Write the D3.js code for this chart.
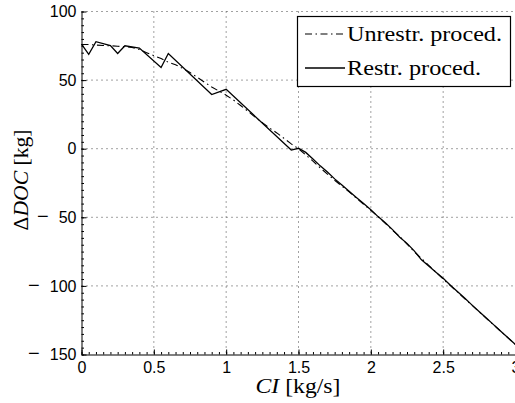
<!DOCTYPE html>
<html>
<head>
<meta charset="utf-8">
<script src="https://cdn.jsdelivr.net/npm/d3@7"></script>
<style>
  html, body { margin: 0; padding: 0; background: #fff; }
  svg { display: block; }
  .tick text { font-family: "Liberation Sans", Arial, sans-serif; font-size: 16px; fill: #000; }
  .serif { font-family: "Liberation Serif", "Times New Roman", serif; fill: #000; }
</style>
</head>
<body>
<svg id="chart" width="515" height="403"></svg>
<script>
// Coolant injection rate [kg/s]
const restrCI = [0, 0.05, 0.1, 0.2, 0.25, 0.3, 0.4, 0.55, 0.6, 0.9, 1.0, 1.45, 1.5, 1.55,
  1.6, 1.65, 1.7, 1.75, 1.8, 1.85, 1.9, 1.95, 2.0, 2.05, 2.1, 2.15, 2.2, 2.25, 2.3, 2.35,
  2.4, 2.45, 2.5, 2.55, 2.6, 2.65, 2.7, 2.75, 2.8, 2.85, 2.9, 2.95, 3.0];
// Delta DOC for the restricted procedure [kg]
const restrDOC = [76.3, 68.8, 78, 75.2, 69.4, 75, 73.3, 59.2, 69.4, 39.5, 43.3, -1, 0.3, -2.7,
  -7.5, -12.5, -17, -22, -26.5, -31, -35.5, -40, -44.5, -49.5, -54, -59, -64.5, -69, -74.5, -81,
  -85.5, -90, -94.5, -99.5, -104.3, -109, -114, -118.8, -123.6, -128.4, -133.2, -138, -142.7];

const unrestrCI = [0, 0.05, 0.1, 0.15, 0.2, 0.25, 0.3, 0.35, 0.4, 0.45, 0.5, 0.55, 0.6, 0.65,
  0.7, 0.75, 0.8, 0.85, 0.9, 0.95, 1.0, 1.05, 1.1, 1.15, 1.2, 1.25, 1.3, 1.35, 1.4, 1.45, 1.5,
  1.55, 1.6, 1.65, 1.7, 1.75, 1.8, 1.85, 1.9, 1.95, 2.0, 2.05, 2.1, 2.15, 2.2, 2.25, 2.3, 2.35,
  2.4, 2.45, 2.5, 2.55, 2.6, 2.65, 2.7, 2.75, 2.8, 2.85, 2.9, 2.95, 3.0];
// Delta DOC for the unrestricted procedure [kg]
const unrestrDOC = [76, 76, 75.5, 75.2, 75, 74.7, 74.3, 73.8, 72.3, 70, 67.8, 65.8, 63, 61.2,
  58.5, 55.5, 52, 48.5, 45, 42, 39, 35.5, 31.5, 27.3, 23, 19, 15, 11.5, 7.5, 3.5, 0,
  -4.5, -9, -14, -18.5, -23, -27.3, -31.5, -36, -40.5, -45, -49.5, -54.5, -59.5, -64, -69.5, -75, -80,
  -85, -90, -95, -99.8, -104.6, -109.4, -114.2, -119, -123.8, -128.5, -133.3, -138, -142.8];

const xTicks = [0, 0.5, 1, 1.5, 2, 2.5, 3];
const yTicks = [-150, -100, -50, 0, 50, 100];
const legendLabels = ["Unrestr. proced.", "Restr. proced."];

const svg = d3.select("#chart");
const plotL = 81.5, plotR = 515.5, plotT = 11.5, plotB = 354.5;

const x = d3.scaleLinear().domain([0, 3]).range([plotL, plotR]);
const y = d3.scaleLinear().domain([-150, 100]).range([plotB, plotT]);

// dotted grid
const grid = svg.append("g").attr("stroke", "#444").attr("stroke-width", 1)
  .attr("stroke-dasharray", "1,4");
grid.selectAll("line.gx").data(xTicks.filter(v => v > 0)).join("line")
  .attr("x1", d => x(d)).attr("x2", d => x(d))
  .attr("y1", plotT).attr("y2", plotB);
grid.selectAll("line.gy").data(yTicks.filter(v => v > -150)).join("line")
  .attr("y1", d => y(d)).attr("y2", d => y(d))
  .attr("x1", plotL).attr("x2", plotR);

// minor ticks
const xMinor = d3.range(0, 3.0001, 0.05).map(v => +v.toFixed(2));
const yMinor = d3.range(-150, 100.001, 5);
svg.append("g").attr("transform", `translate(0,${plotB})`)
  .call(d3.axisBottom(x).tickValues(xMinor).tickSize(-2.5).tickSizeOuter(0).tickFormat(""))
  .call(g => g.select(".domain").remove())
  .selectAll("line").attr("stroke", "#000");
svg.append("g").attr("transform", `translate(${plotL},0)`)
  .call(d3.axisLeft(y).tickValues(yMinor).tickSize(-2.5).tickSizeOuter(0).tickFormat(""))
  .call(g => g.select(".domain").remove())
  .selectAll("line").attr("stroke", "#000");

// major axes
const xAxis = svg.append("g").attr("transform", `translate(0,${plotB})`)
  .call(d3.axisBottom(x).tickValues(xTicks).tickSize(-5).tickSizeOuter(0).tickPadding(18).tickFormat(d => String(d)));
xAxis.select(".domain").attr("stroke", "#000");
xAxis.selectAll(".tick text").attr("dy", 0);

const yAxis = svg.append("g").attr("transform", `translate(${plotL},0)`)
  .call(d3.axisLeft(y).tickValues(yTicks).tickSize(-5).tickSizeOuter(0).tickPadding(5).tickFormat(""));
yAxis.select(".domain").attr("stroke", "#000");
// negative labels get a long, widely spaced minus sign
yAxis.selectAll(".tick text").each(function(d) {
  const t = d3.select(this);
  if (d < 0) {
    t.append("tspan").attr("font-size", "20px").attr("letter-spacing", "10px").text("\u2212");
    t.append("tspan").text(String(Math.abs(d)));
  } else {
    t.text(String(d));
  }
});

// data lines
const lineGen = d3.line().x(d => x(d[0])).y(d => y(d[1]));
const unrestrData = unrestrCI.map((c, i) => [c, unrestrDOC[i]]);
const restrData = restrCI.map((c, i) => [c, restrDOC[i]]);
const dashStyle = "7,3.5,1.5,3.5";

svg.append("path").datum(unrestrData).attr("d", lineGen)
  .attr("fill", "none").attr("stroke", "#000").attr("stroke-width", 1.1)
  .attr("stroke-dasharray", dashStyle);
svg.append("path").datum(restrData).attr("d", lineGen)
  .attr("fill", "none").attr("stroke", "#000").attr("stroke-width", 1.3);

// legend
const lg = svg.append("g");
lg.append("rect").attr("x", 297.5).attr("y", 16.5).attr("width", 213).attr("height", 70)
  .attr("fill", "#fff").attr("stroke", "#000").attr("stroke-width", 1.2);
const styles = [dashStyle, null];
const labelWidths = [155, 134];
legendLabels.forEach((lab, i) => {
  const cy = 34 + i * 34;
  lg.append("line").attr("x1", 305).attr("x2", 345).attr("y1", cy).attr("y2", cy)
    .attr("stroke", "#000").attr("stroke-width", i ? 1.3 : 1.1)
    .attr("stroke-dasharray", styles[i]);
  lg.append("text").attr("class", "serif").attr("x", 347).attr("y", cy + 6.5)
    .attr("font-size", 20).attr("textLength", labelWidths[i])
    .attr("lengthAdjust", "spacingAndGlyphs").text(lab);
});

// axis titles
const xl = svg.append("text").attr("class", "serif").attr("font-size", 20)
  .attr("x", 298).attr("y", 393).attr("text-anchor", "middle")
  .attr("textLength", 85).attr("lengthAdjust", "spacingAndGlyphs");
xl.append("tspan").attr("font-style", "italic").text("CI");
xl.append("tspan").text(" [kg/s]");

const yl = svg.append("text").attr("class", "serif").attr("font-size", 20)
  .attr("transform", "translate(28,180) rotate(-90)").attr("text-anchor", "middle")
  .attr("textLength", 101).attr("lengthAdjust", "spacingAndGlyphs");
yl.append("tspan").text("\u0394");
yl.append("tspan").attr("font-style", "italic").text("DOC");
yl.append("tspan").text(" [kg]");
</script>
</body>
</html>
